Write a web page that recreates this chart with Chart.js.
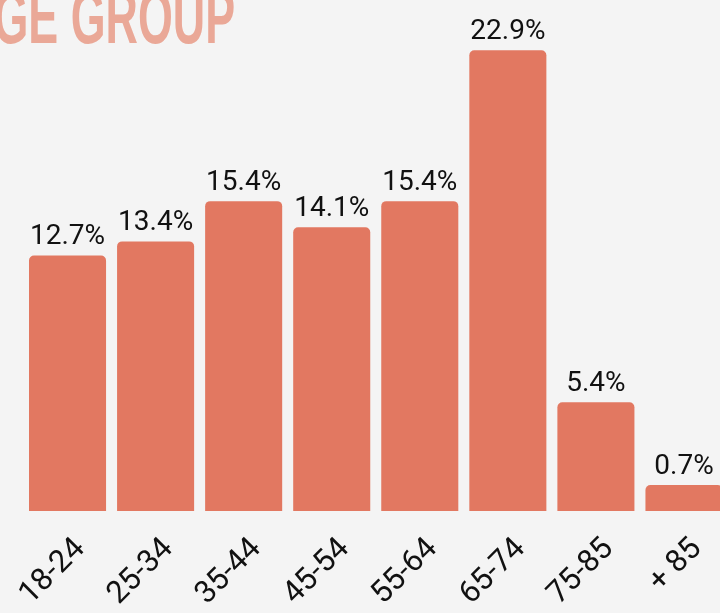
<!DOCTYPE html>
<html>
<head>
<meta charset="utf-8">
<script src="https://cdn.jsdelivr.net/npm/chart.js@4"></script>
<style>
  html, body { margin: 0; padding: 0; background: #f4f4f4; overflow: hidden; width: 720px; height: 613px; }
  #title {
    position: absolute; left: -39px; top: -21px;
    font-family: "Liberation Sans Narrow", "Liberation Sans", sans-serif;
    font-weight: 700; font-size: 76px; line-height: 1;
    color: #eaa897; white-space: nowrap;
    transform: scaleX(0.59); transform-origin: left top;
  }
  #wrap { position: absolute; left: 0; top: 0; width: 760px; height: 700px; }
</style>
</head>
<body>
<div id="title">AGE GROUP</div>
<div id="wrap"><canvas id="chart"></canvas></div>
<script>
const ageGroups = ["18-24", "25-34", "35-44", "45-54", "55-64", "65-74", "75-85", "+ 85"];
const shares = [12.7, 13.4, 15.4, 14.1, 15.4, 22.9, 5.4, 0.7];

const valueLabels = {
    id: "valueLabels",
    afterDatasetsDraw(chart) {
        const ctx = chart.ctx;
        const meta = chart.getDatasetMeta(0);
        ctx.save();
        ctx.font = "28px Roboto";
        ctx.fillStyle = "#111";
        ctx.textAlign = "center";
        ctx.textBaseline = "alphabetic";
        meta.data.forEach(function(bar, i) {
            ctx.fillText(shares[i].toFixed(1) + "%", bar.x, bar.y - 11);
        });
        ctx.restore();
    }
};

new Chart(document.getElementById("chart"), {
    type: "bar",
    data: {
        labels: ageGroups,
        datasets: [{
            data: shares,
            backgroundColor: "#e27861",
            borderRadius: { topLeft: 5, topRight: 5 },
            borderSkipped: "start",
            barPercentage: 0.875,
            categoryPercentage: 1,
            minBarLength: 26
        }]
    },
    options: {
        responsive: true,
        maintainAspectRatio: false,
        animation: false,
        layout: { padding: { left: 23.5, right: 32, top: 8, bottom: 0 } },
        plugins: { legend: { display: false }, tooltip: { enabled: false } },
        scales: {
            x: {
                grid: { display: false },
                border: { display: false },
                ticks: {
                    color: "#111",
                    font: { family: "Roboto", size: 31 },
                    minRotation: 45,
                    maxRotation: 45,
                    padding: 12,
                    labelOffset: 13
                },
                afterFit: function(scale) {
                    scale.height = 189;
                    scale.paddingLeft = 0;
                    scale.paddingRight = 0;
                }
            },
            y: {
                display: false,
                min: 0,
                max: 25
            }
        }
    },
    plugins: [valueLabels]
});
</script>
</body>
</html>
